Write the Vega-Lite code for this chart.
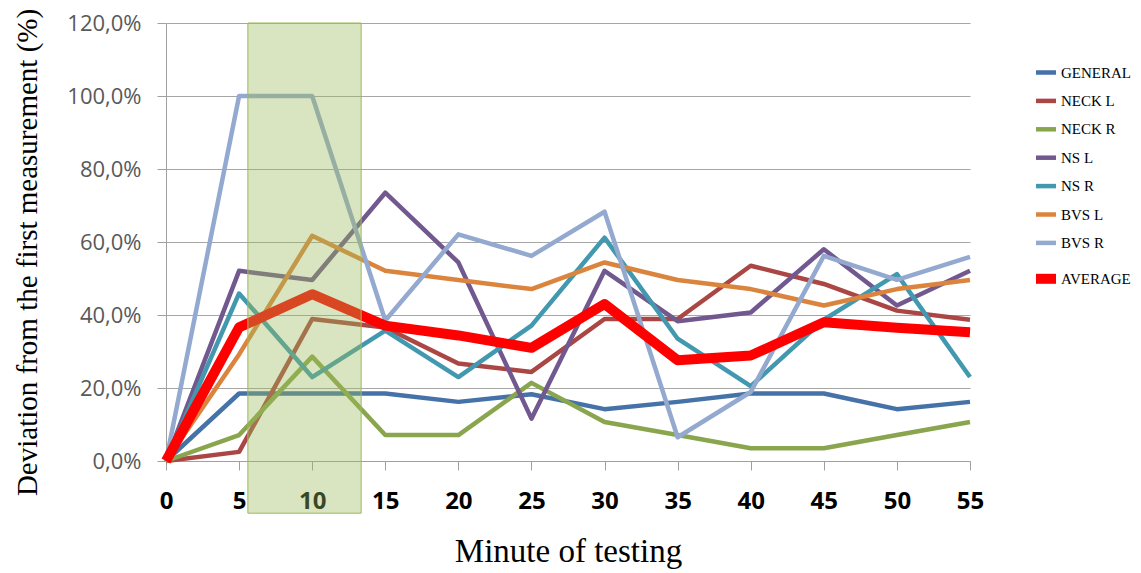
{
  "$schema": "https://vega.github.io/schema/vega-lite/v6.json",
  "width": 804,
  "height": 438,
  "autosize": {"type": "none"},
  "padding": {"left": 166, "top": 23, "right": 171, "bottom": 112},
  "background": "white",
  "config": {
    "view": {"stroke": null},
    "legend": {"title": null}
  },
  "datasets": {
    "series": [
      {"minute": 0, "series": "GENERAL", "value": 0},
      {"minute": 5, "series": "GENERAL", "value": 18.5},
      {"minute": 10, "series": "GENERAL", "value": 18.5},
      {"minute": 15, "series": "GENERAL", "value": 18.5},
      {"minute": 20, "series": "GENERAL", "value": 16.2},
      {"minute": 25, "series": "GENERAL", "value": 18.3},
      {"minute": 30, "series": "GENERAL", "value": 14.2},
      {"minute": 35, "series": "GENERAL", "value": 16.2},
      {"minute": 40, "series": "GENERAL", "value": 18.5},
      {"minute": 45, "series": "GENERAL", "value": 18.5},
      {"minute": 50, "series": "GENERAL", "value": 14.2},
      {"minute": 55, "series": "GENERAL", "value": 16.2},
      {"minute": 0, "series": "NECK L", "value": 0},
      {"minute": 5, "series": "NECK L", "value": 2.5},
      {"minute": 10, "series": "NECK L", "value": 38.9},
      {"minute": 15, "series": "NECK L", "value": 36.6},
      {"minute": 20, "series": "NECK L", "value": 26.7},
      {"minute": 25, "series": "NECK L", "value": 24.4},
      {"minute": 30, "series": "NECK L", "value": 38.9},
      {"minute": 35, "series": "NECK L", "value": 38.9},
      {"minute": 40, "series": "NECK L", "value": 53.5},
      {"minute": 45, "series": "NECK L", "value": 48.5},
      {"minute": 50, "series": "NECK L", "value": 41.2},
      {"minute": 55, "series": "NECK L", "value": 38.7},
      {"minute": 0, "series": "NECK R", "value": 0},
      {"minute": 5, "series": "NECK R", "value": 7.1},
      {"minute": 10, "series": "NECK R", "value": 28.6},
      {"minute": 15, "series": "NECK R", "value": 7.1},
      {"minute": 20, "series": "NECK R", "value": 7.1},
      {"minute": 25, "series": "NECK R", "value": 21.4},
      {"minute": 30, "series": "NECK R", "value": 10.7},
      {"minute": 35, "series": "NECK R", "value": 7.1},
      {"minute": 40, "series": "NECK R", "value": 3.5},
      {"minute": 45, "series": "NECK R", "value": 3.5},
      {"minute": 50, "series": "NECK R", "value": 7.1},
      {"minute": 55, "series": "NECK R", "value": 10.7},
      {"minute": 0, "series": "NS L", "value": 0},
      {"minute": 5, "series": "NS L", "value": 52.1},
      {"minute": 10, "series": "NS L", "value": 49.6},
      {"minute": 15, "series": "NS L", "value": 73.5},
      {"minute": 20, "series": "NS L", "value": 54.4},
      {"minute": 25, "series": "NS L", "value": 11.6},
      {"minute": 30, "series": "NS L", "value": 52.1},
      {"minute": 35, "series": "NS L", "value": 38.3},
      {"minute": 40, "series": "NS L", "value": 40.7},
      {"minute": 45, "series": "NS L", "value": 58.0},
      {"minute": 50, "series": "NS L", "value": 42.6},
      {"minute": 55, "series": "NS L", "value": 52.1},
      {"minute": 0, "series": "NS R", "value": 0},
      {"minute": 5, "series": "NS R", "value": 45.9},
      {"minute": 10, "series": "NS R", "value": 23.0},
      {"minute": 15, "series": "NS R", "value": 35.7},
      {"minute": 20, "series": "NS R", "value": 23.0},
      {"minute": 25, "series": "NS R", "value": 37.1},
      {"minute": 30, "series": "NS R", "value": 61.2},
      {"minute": 35, "series": "NS R", "value": 33.5},
      {"minute": 40, "series": "NS R", "value": 20.5},
      {"minute": 45, "series": "NS R", "value": 38.7},
      {"minute": 50, "series": "NS R", "value": 51.2},
      {"minute": 55, "series": "NS R", "value": 23.0},
      {"minute": 0, "series": "BVS L", "value": 0},
      {"minute": 5, "series": "BVS L", "value": 29.2},
      {"minute": 10, "series": "BVS L", "value": 61.7},
      {"minute": 15, "series": "BVS L", "value": 52.1},
      {"minute": 20, "series": "BVS L", "value": 49.6},
      {"minute": 25, "series": "BVS L", "value": 47.1},
      {"minute": 30, "series": "BVS L", "value": 54.4},
      {"minute": 35, "series": "BVS L", "value": 49.6},
      {"minute": 40, "series": "BVS L", "value": 47.1},
      {"minute": 45, "series": "BVS L", "value": 42.6},
      {"minute": 50, "series": "BVS L", "value": 47.1},
      {"minute": 55, "series": "BVS L", "value": 49.6},
      {"minute": 0, "series": "BVS R", "value": 0},
      {"minute": 5, "series": "BVS R", "value": 100},
      {"minute": 10, "series": "BVS R", "value": 100},
      {"minute": 15, "series": "BVS R", "value": 38.5},
      {"minute": 20, "series": "BVS R", "value": 62.1},
      {"minute": 25, "series": "BVS R", "value": 56.2},
      {"minute": 30, "series": "BVS R", "value": 68.3},
      {"minute": 35, "series": "BVS R", "value": 6.5},
      {"minute": 40, "series": "BVS R", "value": 18.9},
      {"minute": 45, "series": "BVS R", "value": 56.2},
      {"minute": 50, "series": "BVS R", "value": 49.6},
      {"minute": 55, "series": "BVS R", "value": 55.9},
      {"minute": 0, "series": "AVERAGE", "value": 0},
      {"minute": 5, "series": "AVERAGE", "value": 36.6},
      {"minute": 10, "series": "AVERAGE", "value": 45.7},
      {"minute": 15, "series": "AVERAGE", "value": 37.1},
      {"minute": 20, "series": "AVERAGE", "value": 34.4},
      {"minute": 25, "series": "AVERAGE", "value": 31.0},
      {"minute": 30, "series": "AVERAGE", "value": 43.0},
      {"minute": 35, "series": "AVERAGE", "value": 27.6},
      {"minute": 40, "series": "AVERAGE", "value": 28.9},
      {"minute": 45, "series": "AVERAGE", "value": 38.0},
      {"minute": 50, "series": "AVERAGE", "value": 36.5},
      {"minute": 55, "series": "AVERAGE", "value": 35.3}
    ],
    "highlight": [
      {"start": 5.6, "end": 13.35, "top": 120, "bottom": -14.3}
    ]
  },
  "layer": [
    {
      "data": {"name": "series"},
      "mark": {"type": "line", "strokeJoin": "round"},
      "encoding": {
        "x": {
          "field": "minute",
          "type": "quantitative",
          "scale": {"domain": [0, 55], "nice": false, "zero": false},
          "axis": {
            "values": [0, 5, 10, 15, 20, 25, 30, 35, 40, 45, 50, 55],
            "grid": false,
            "domainColor": "#a0a0a0",
            "tickColor": "#a0a0a0",
            "tickSize": 9,
            "labelFont": "Open Sans",
            "labelFontWeight": "bold",
            "labelFontSize": 24,
            "labelColor": "#000000",
            "labelPadding": 19,
            "labelFlush": false,
            "labelOverlap": false,
            "title": "Minute of testing",
            "titleFont": "Liberation Serif",
            "titleFontSize": 33,
            "titleFontWeight": "normal",
            "titleColor": "#000000",
            "titleX": 402,
            "titleY": 100,
            "titleAlign": "center",
            "titleBaseline": "alphabetic"
          }
        },
        "y": {
          "field": "value",
          "type": "quantitative",
          "scale": {"domain": [0, 120], "nice": false},
          "axis": {
            "values": [0, 20, 40, 60, 80, 100, 120],
            "grid": true,
            "gridColor": "#a6a6a6",
            "gridWidth": 1,
            "domainColor": "#a0a0a0",
            "tickColor": "#a0a0a0",
            "tickSize": 9,
            "labelFont": "Open Sans",
            "labelFontSize": 22,
            "labelColor": "#595959",
            "labelPadding": 16,
            "labelExpr": "replace(format(datum.value, '.1f'), '.', ',') + '%'",
            "title": "Deviation from the first measurement (%)",
            "titleFont": "Liberation Serif",
            "titleFontSize": 29,
            "titleFontWeight": "normal",
            "titleColor": "#000000",
            "titleX": -139,
            "titleY": 229,
            "titleAngle": 270,
            "titleAlign": "center",
            "titleBaseline": "middle"
          }
        },
        "color": {
          "field": "series",
          "type": "nominal",
          "scale": {
            "domain": ["GENERAL", "NECK L", "NECK R", "NS L", "NS R", "BVS L", "BVS R", "AVERAGE"],
            "range": ["#4572a7", "#aa4643", "#89a54e", "#71588f", "#4198af", "#db843d", "#93a9cf", "#ff0000"]
          },
          "legend": {
            "orient": "none",
            "legendX": 865,
            "legendY": 37,
            "symbolType": "stroke",
            "symbolSize": 400,
            "labelFont": "Liberation Serif",
            "labelFontSize": 15,
            "labelColor": "#000000",
            "labelOffset": 0,
            "rowPadding": 6.4,
            "padding": 0,
            "title": null
          }
        },
        "strokeWidth": {
          "field": "series",
          "type": "nominal",
          "scale": {
            "type": "ordinal",
            "domain": ["GENERAL", "NECK L", "NECK R", "NS L", "NS R", "BVS L", "BVS R", "AVERAGE"],
            "range": [4.5, 4.5, 4.5, 4.5, 4.5, 4.5, 4.5, 10]
          },
          "legend": {
            "orient": "none",
            "legendX": 865,
            "legendY": 37,
            "symbolType": "stroke",
            "symbolSize": 400,
            "labelFont": "Liberation Serif",
            "labelFontSize": 15,
            "labelColor": "#000000",
            "labelOffset": 0,
            "rowPadding": 6.4,
            "padding": 0,
            "title": null
          }
        }
      }
    },
    {
      "data": {"name": "highlight"},
      "mark": {"type": "rect", "fill": "#9bbb59", "fillOpacity": 0.38, "stroke": "#9bbb59", "strokeWidth": 1, "clip": false},
      "encoding": {
        "x": {"field": "start", "type": "quantitative", "scale": {"domain": [0, 55], "nice": false, "zero": false}},
        "x2": {"field": "end"},
        "y": {"field": "top", "type": "quantitative", "scale": {"domain": [0, 120], "nice": false}},
        "y2": {"field": "bottom"}
      }
    }
  ]
}
